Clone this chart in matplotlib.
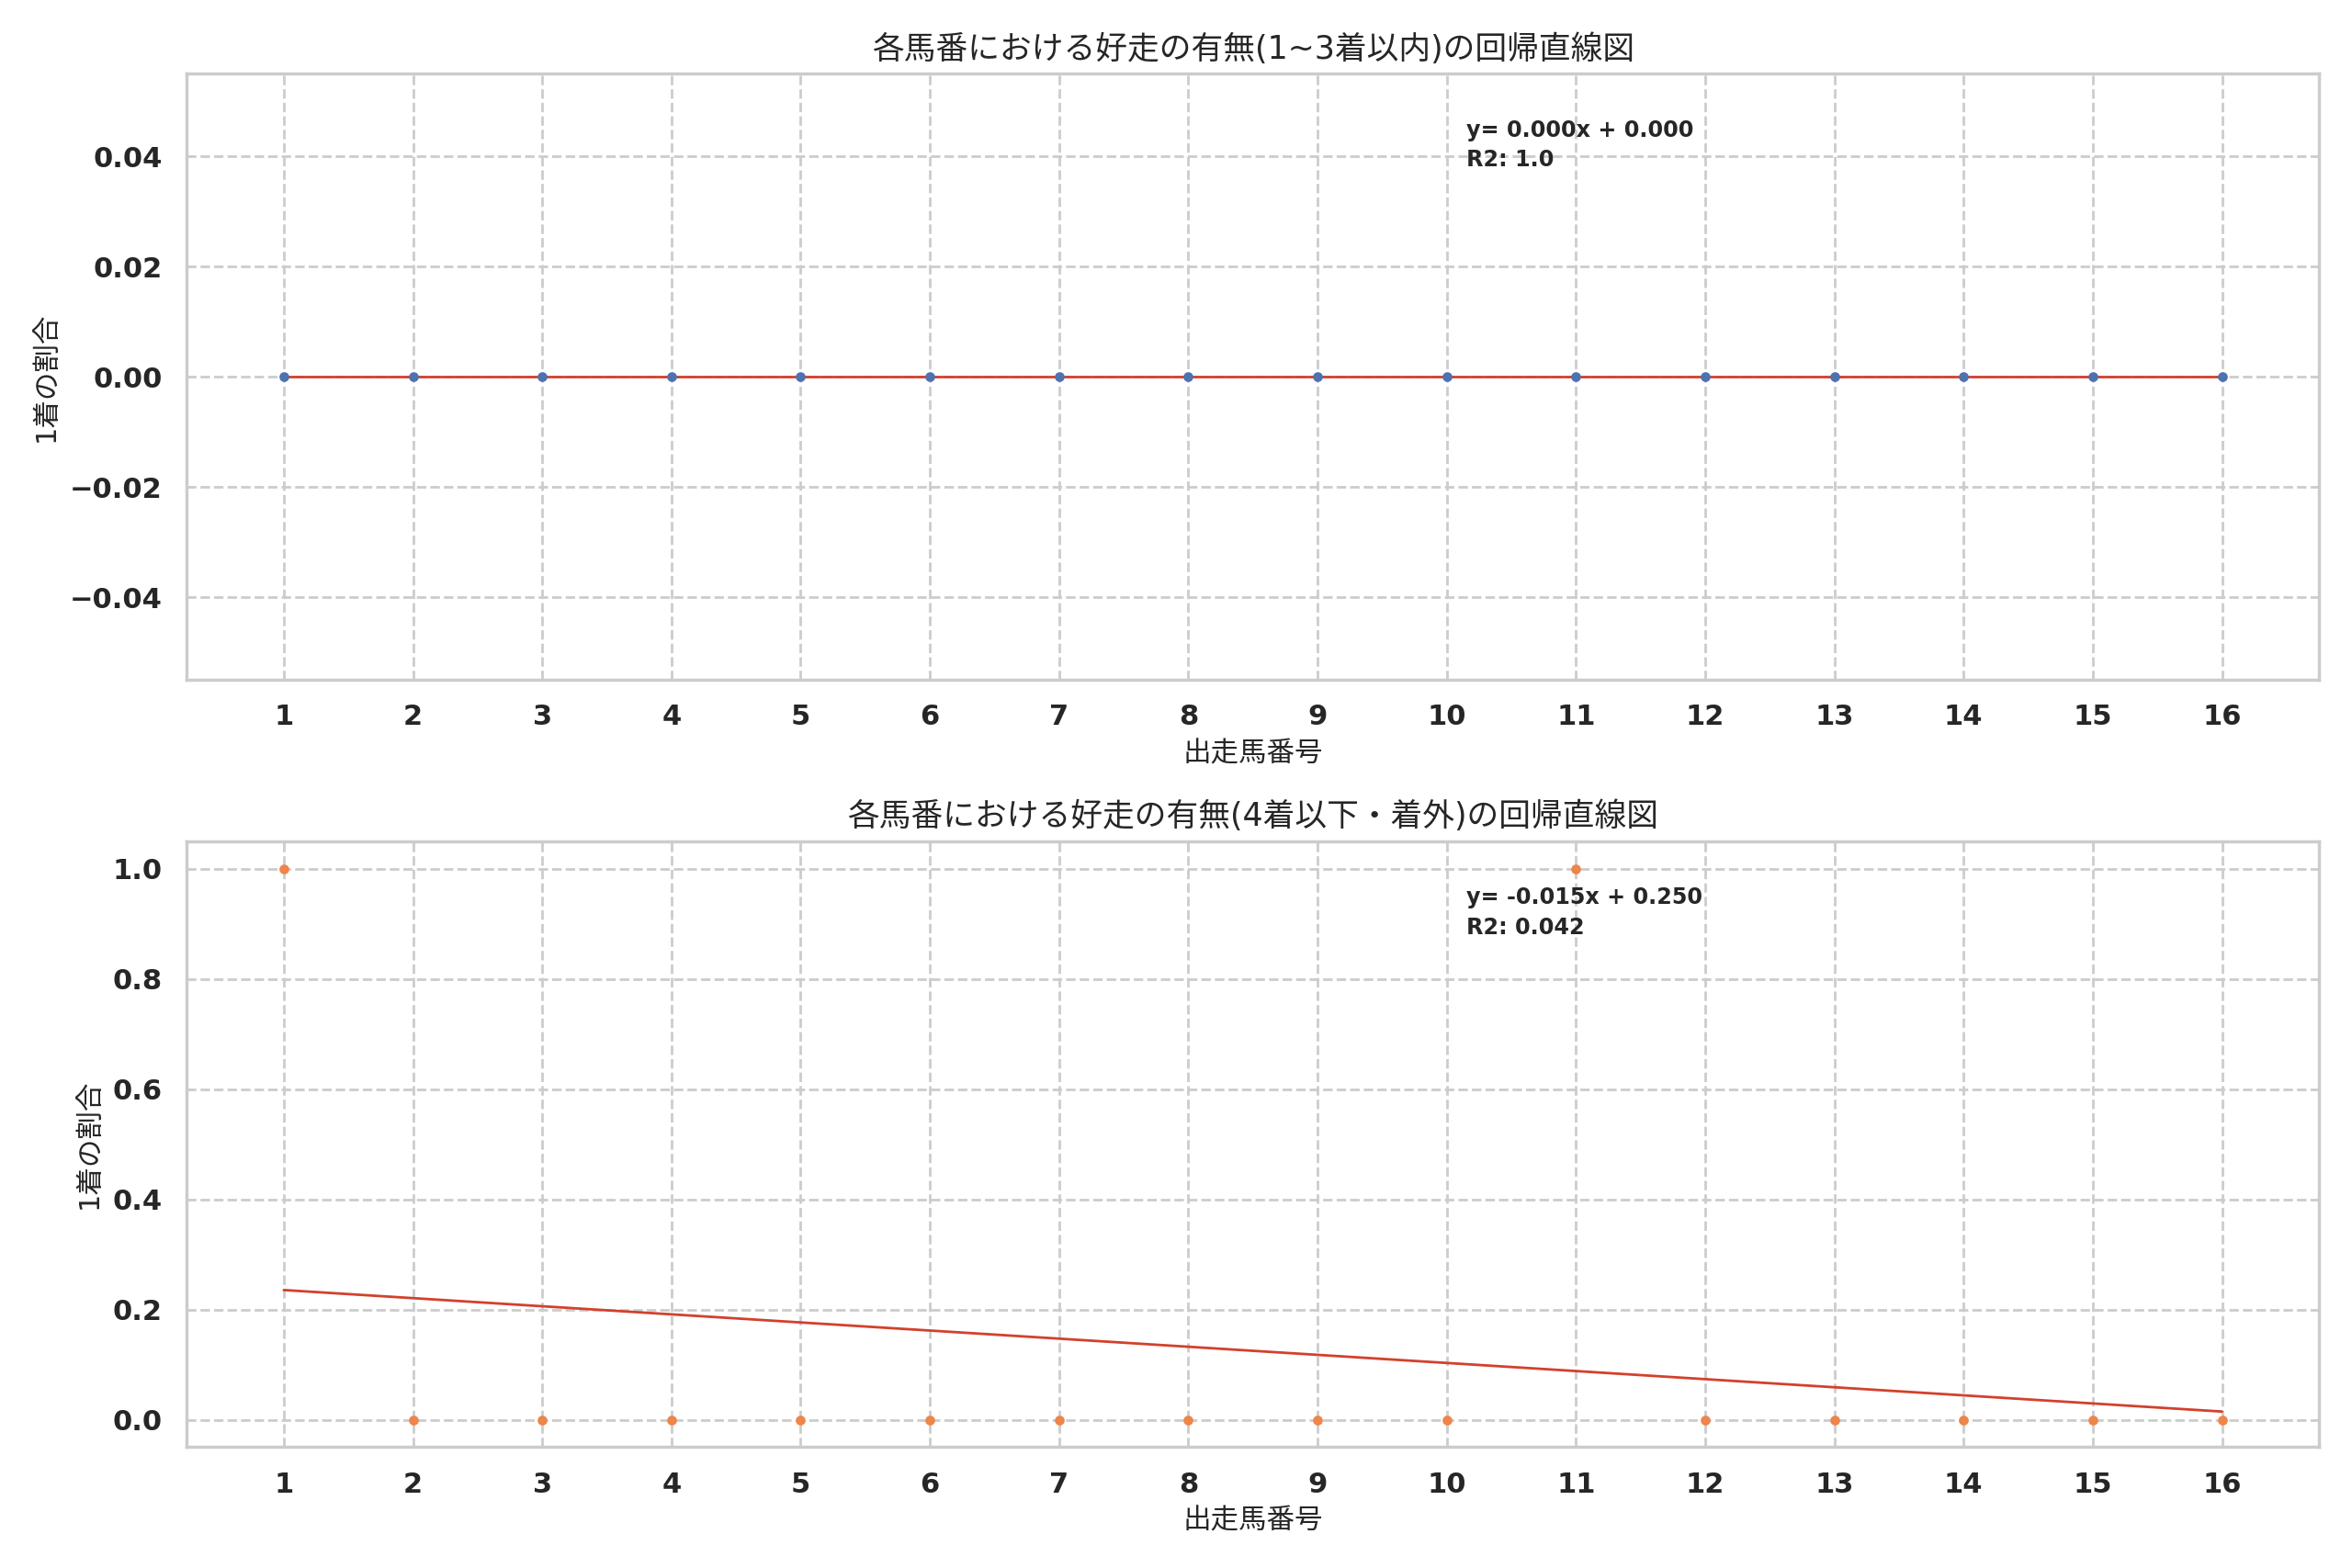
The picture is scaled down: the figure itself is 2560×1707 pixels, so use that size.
import numpy as np
import matplotlib
matplotlib.use("Agg")
import matplotlib.pyplot as plt
import seaborn as sns

###データ
horse_no = [1, 2, 3, 4, 5, 6, 7, 8, 9, 10, 11, 12, 13, 14, 15, 16]
top3_flag = [0, 0, 0, 0, 0, 0, 0, 0, 0, 0, 0, 0, 0, 0, 0, 0]
lower_flag = [1, 0, 0, 0, 0, 0, 0, 0, 0, 0, 1, 0, 0, 0, 0, 0]

titles = ["各馬番における好走の有無(1~3着以内)の回帰直線図",
          "各馬番における好走の有無(4着以下・着外)の回帰直線図"]
xlabel = "出走馬番号"
ylabel = "1着の割合"

sns.set_theme(style="whitegrid")
plt.rcParams['font.family'] = ['DejaVu Sans', 'Noto Sans CJK JP']
plt.rcParams['grid.linestyle'] = '--'

##回帰
def fit(x, y):
    x = np.array(x, dtype=float)
    y = np.array(y, dtype=float)
    a, b = np.polyfit(x, y, 1)
    ss_tot = np.sum((y - y.mean()) ** 2)
    if ss_tot == 0:
        r2 = 1.0
    else:
        r2 = 1 - np.sum((y - (a * x + b)) ** 2) / ss_tot
    return a, b, r2

fig, axes = plt.subplots(2, 1, figsize=(12.8, 8.535), dpi=200)
series = [(top3_flag, "#4c72b0", "{:.1f}"), (lower_flag, "#ee854a", "{:.3f}")]

for ax, (ys, col, r2fmt), title in zip(axes, series, titles):
    a, b, r2 = fit(horse_no, ys)
    ax.scatter(horse_no, ys, s=8, color=col, zorder=3)
    xs = np.array(horse_no, dtype=float)
    ax.plot(xs, a * xs + b, color="#d2412d", linewidth=1.0, zorder=2)
    if abs(a) < 5e-4:
        a = 0.0
    if abs(b) < 5e-4:
        b = 0.0
    ax.text(0.6, 0.925, f"y= {a:.3f}x + {b:.3f}\nR2: " + r2fmt.format(r2),
            transform=ax.transAxes, va='top', ha='left',
            fontsize=8.6, fontweight='bold', linespacing=1.45)
    ax.set_xticks(horse_no)
    ax.set_title(title, fontsize=12.5)
    ax.set_xlabel(xlabel, fontsize=11)
    ax.set_ylabel(ylabel, fontsize=11)
    for lab in ax.get_xticklabels() + ax.get_yticklabels():
        lab.set_fontweight('bold')
        lab.set_fontsize(11)
    ax.grid(True, linestyle='--', color='#cccccc')

plt.tight_layout()
plt.savefig("out.png")
